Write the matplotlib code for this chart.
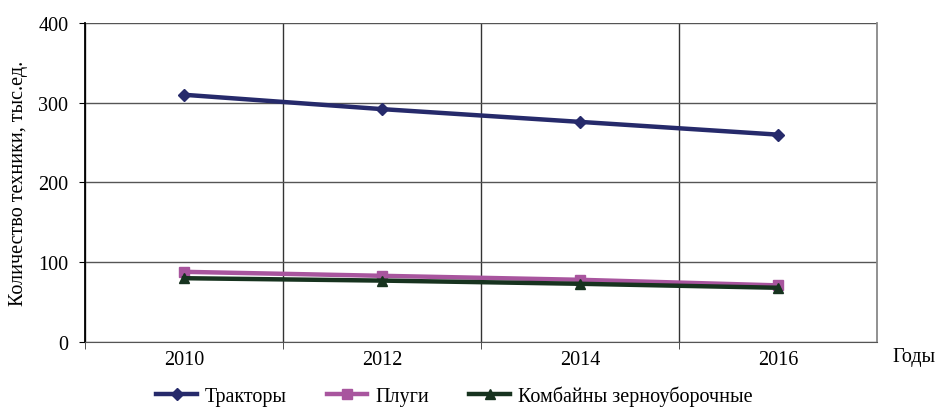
import numpy as np
import matplotlib.pyplot as plt

plt.rcParams['font.family'] = ['Liberation Serif', 'DejaVu Serif']

years = ['2010', '2012', '2014', '2016']
traktory = [310, 292, 276, 260]
plugi = [88, 83, 78, 71]
kombainy = [80, 77, 73, 68]

x = np.arange(len(years))
fs = 14.5

fig = plt.figure(figsize=(9.37, 4.10), dpi=100)
ax = fig.add_axes([0.0907, 0.1634, 0.8453, 0.7781])

ax.plot(x, traktory, color='#262A6B', lw=3.2, marker='D', ms=6, label='Тракторы')
ax.plot(x, plugi, color='#A8559E', lw=3.2, marker='s', ms=7, label='Плуги')
ax.plot(x, kombainy, color='#17331F', lw=3.2, marker='^', ms=7, label='Комбайны зерноуборочные')

ax.set_xlim(-0.5, 3.5)
ax.set_ylim(0, 400)
ax.set_yticks([0, 100, 200, 300, 400])
ax.set_xticks(x)
ax.set_xticklabels(years)
ax.set_xticks([-0.5, 0.5, 1.5, 2.5], minor=True)
ax.tick_params(axis='x', which='major', length=0, labelsize=fs, pad=6)
ax.tick_params(axis='x', which='minor', length=5, direction='out', color='#333333')
ax.tick_params(axis='y', length=4, labelsize=fs, pad=8)
ax.grid(axis='y', color='#555555', lw=1)
ax.grid(axis='x', which='minor', color='#333333', lw=1)

ax.spines['top'].set_visible(False)
ax.spines['right'].set_color('#888888')
ax.spines['right'].set_linewidth(1.3)
ax.spines['left'].set_linewidth(1.3)
ax.spines['bottom'].set_color('#555555')

ax.set_ylabel('Количество техники, тыс.ед.', fontsize=fs, labelpad=7)
fig.text(0.998, 0.128, 'Годы', fontsize=fs, ha='right', va='center')

fig.legend(loc='lower center', bbox_to_anchor=(0.485, -0.038), ncol=3, frameon=False,
           fontsize=fs, handlelength=2.0, handletextpad=0.4, columnspacing=2.0)

plt.savefig('out.png', dpi=100)
